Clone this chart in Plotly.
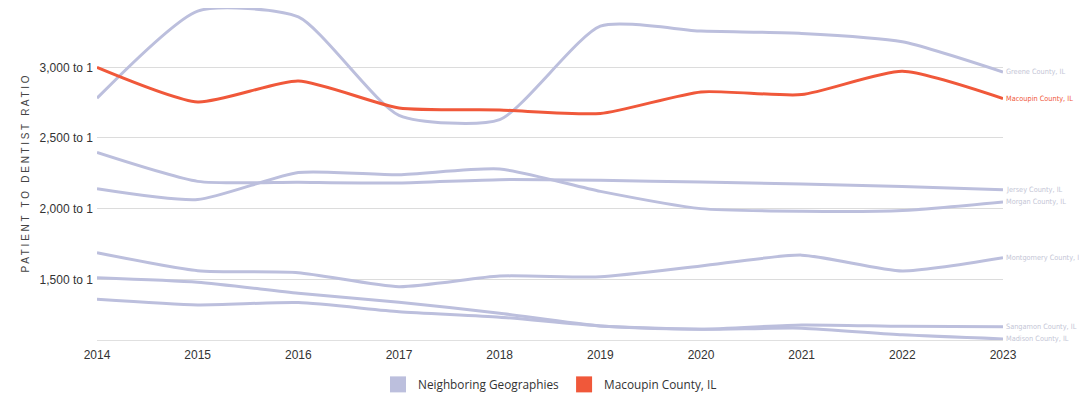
import plotly.graph_objects as go

years = [2014, 2015, 2016, 2017, 2018, 2019, 2020, 2021, 2022, 2023]

macoupin = [3000, 2755, 2903, 2712, 2698, 2673, 2826, 2807, 2972, 2779]
greene = [2781, 3398, 3356, 2660, 2630, 3291, 3256, 3240, 3181, 2967]
jersey = [2397, 2193, 2186, 2181, 2205, 2200, 2188, 2174, 2157, 2134]
morgan = [2141, 2064, 2256, 2240, 2280, 2122, 2000, 1981, 1986, 2047]
montgomery = [1688, 1561, 1547, 1448, 1523, 1518, 1594, 1671, 1559, 1652]
sangamon = [1359, 1319, 1335, 1271, 1232, 1170, 1147, 1177, 1167, 1164]
madison = [1511, 1479, 1401, 1338, 1260, 1170, 1147, 1154, 1107, 1078]

neighbors = {
    "Greene County, IL": greene,
    "Jersey County, IL": jersey,
    "Morgan County, IL": morgan,
    "Montgomery County, IL": montgomery,
    "Sangamon County, IL": sangamon,
    "Madison County, IL": madison,
}

tick_vals = [1500, 2000, 2500, 3000]
tick_text = ["1,500 to 1", "2,000 to 1", "2,500 to 1", "3,000 to 1"]

GREY = "#bcbfdd"
RED = "#f0583a"
LABEL_GREY = "#c4c6d6"

fig = go.Figure()

for name, vals in neighbors.items():
    fig.add_trace(go.Scatter(
        x=years, y=vals, mode="lines", name=name,
        line=dict(color=GREY, width=3, shape="spline", smoothing=0.6),
        showlegend=False, hoverinfo="skip",
    ))

fig.add_trace(go.Scatter(
    x=years, y=macoupin, mode="lines", name="Macoupin County, IL",
    line=dict(color=RED, width=3, shape="spline", smoothing=0.6),
    showlegend=False, hoverinfo="skip",
))

# legend entries
fig.add_trace(go.Scatter(
    x=[None], y=[None], mode="markers", name="Neighboring Geographies",
    marker=dict(symbol="square", size=20, color=GREY),
))
fig.add_trace(go.Scatter(
    x=[None], y=[None], mode="markers", name="Macoupin County, IL",
    marker=dict(symbol="square", size=20, color=RED),
))

label_font = "DejaVu Sans Condensed, Liberation Sans Narrow, Roboto Condensed, sans-serif"
for name, vals in neighbors.items():
    fig.add_annotation(x=years[-1], y=vals[-1], text=name, xref="x", yref="y",
                       xanchor="left", yanchor="middle", xshift=1, showarrow=False,
                       font=dict(family=label_font, size=7.3, color=LABEL_GREY))
fig.add_annotation(x=years[-1], y=macoupin[-1], text="Macoupin County, IL", xref="x", yref="y",
                   xanchor="left", yanchor="middle", xshift=1, showarrow=False,
                   font=dict(family=label_font, size=7.3, color=RED))

fig.update_layout(
    width=1079, height=393,
    margin=dict(l=89, r=84, t=0, b=61),
    plot_bgcolor="white", paper_bgcolor="white",
    font=dict(family="Arial, Liberation Sans, sans-serif", size=12, color="#333333"),
    xaxis=dict(
        range=[2014, 2023], tickvals=years, ticktext=[str(y) for y in years],
        showgrid=False, zeroline=False, showline=True, linecolor="#e0e0e0", linewidth=1,
        ticks="", ticklabelstandoff=4, tickfont=dict(size=12, color="#333333"),
    ),
    yaxis=dict(
        range=[1070.5, 3419.6], tickvals=tick_vals, ticktext=tick_text,
        showgrid=True, gridcolor="#dcdcdc", gridwidth=1, zeroline=False,
        ticks="", ticklabelstandoff=3, tickfont=dict(size=12, color="#333333"),
        title=dict(text="P A T I E N T   T O   D E N T I S T   R A T I O",
                   font=dict(size=10, color="#444444"), standoff=8),
    ),
    legend=dict(orientation="h", x=0.5, xanchor="center", y=-0.09, yanchor="top",
                font=dict(family="Open Sans, sans-serif", size=11.8, color="#333333"),
                itemsizing="trace"),
)

fig.write_html("out.html")
